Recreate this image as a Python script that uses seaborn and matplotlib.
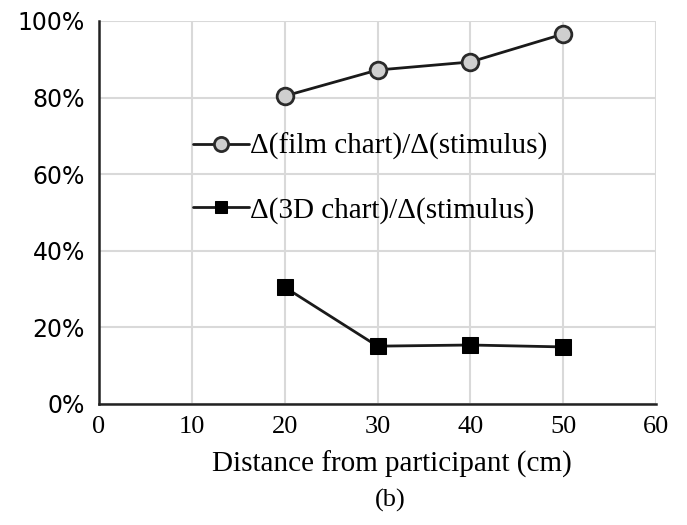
import matplotlib
matplotlib.use("Agg")
import matplotlib.pyplot as plt
import seaborn as sns
import pandas as pd
from matplotlib.ticker import FuncFormatter

distance = [20, 30, 40, 50]
film_ratio = [80.4, 87.2, 89.3, 96.6]
chart3d_ratio = [30.5, 15.1, 15.4, 14.9]
label_film = "Δ(film chart)/Δ(stimulus)"
label_3d = "Δ(3D chart)/Δ(stimulus)"

df = pd.DataFrame({
    "Distance": distance * 2,
    "Ratio": film_ratio + chart3d_ratio,
    "Series": [label_film] * 4 + [label_3d] * 4,
})

sns.set_theme(style="white")
fig = plt.figure(figsize=(6.87, 5.25), dpi=100)
ax = fig.add_axes([0.144, 0.2305, 0.811, 0.7295])

sns.lineplot(data=df[df.Series == label_film], x="Distance", y="Ratio", ax=ax,
             color="#1a1a1a", linewidth=2, marker="o", markersize=12,
             markerfacecolor="#cfcfcf", markeredgecolor="#2a2a2a", markeredgewidth=2,
             label=label_film)
sns.lineplot(data=df[df.Series == label_3d], x="Distance", y="Ratio", ax=ax,
             color="#1a1a1a", linewidth=2, marker="s", markersize=11,
             markerfacecolor="black", markeredgecolor="black",
             label=label_3d)

ax.set_xlim(0, 60)
ax.set_ylim(0, 100)
ax.set_xticks(range(0, 61, 10))
ax.set_yticks(range(0, 101, 20))
ax.yaxis.set_major_formatter(FuncFormatter(lambda v, p: f"{int(v)}%"))
ax.grid(True, color="#d9d9d9", linewidth=1.5)
ax.set_axisbelow(True)
for s in ["top", "right"]:
    ax.spines[s].set_visible(False)
for s in ["left", "bottom"]:
    ax.spines[s].set_color("#222222")
    ax.spines[s].set_linewidth(1.8)

for lab in ax.get_yticklabels():
    lab.set_fontfamily("DejaVu Sans")
    lab.set_fontsize(17)
    lab.set_color("black")
for lab in ax.get_xticklabels():
    lab.set_fontfamily("Liberation Serif")
    lab.set_fontsize(19)
    lab.set_color("black")
ax.tick_params(axis="y", length=0, pad=10)
ax.tick_params(axis="x", length=0, pad=9)

ax.set_xlabel("")
ax.set_ylabel("")
fig.text(392 / 687, 1 - 464 / 525, "Distance from participant (cm)",
         fontfamily="Liberation Serif", fontsize=21, ha="center", va="center", color="black")
fig.text(390 / 687, 1 - 500 / 525, "(b)", fontfamily="Liberation Serif", fontsize=19,
         ha="center", va="center", color="black")

leg = ax.legend(loc="center left", bbox_to_anchor=(0.169, 0.589), frameon=False,
                prop={"family": "Liberation Serif", "size": 21},
                handlelength=1.9, handletextpad=0.05, labelspacing=1.25,
                borderaxespad=0, borderpad=0, markerscale=0.85)
for t in leg.get_texts():
    t.set_color("black")

fig.savefig("out.png", dpi=100, facecolor="white")
